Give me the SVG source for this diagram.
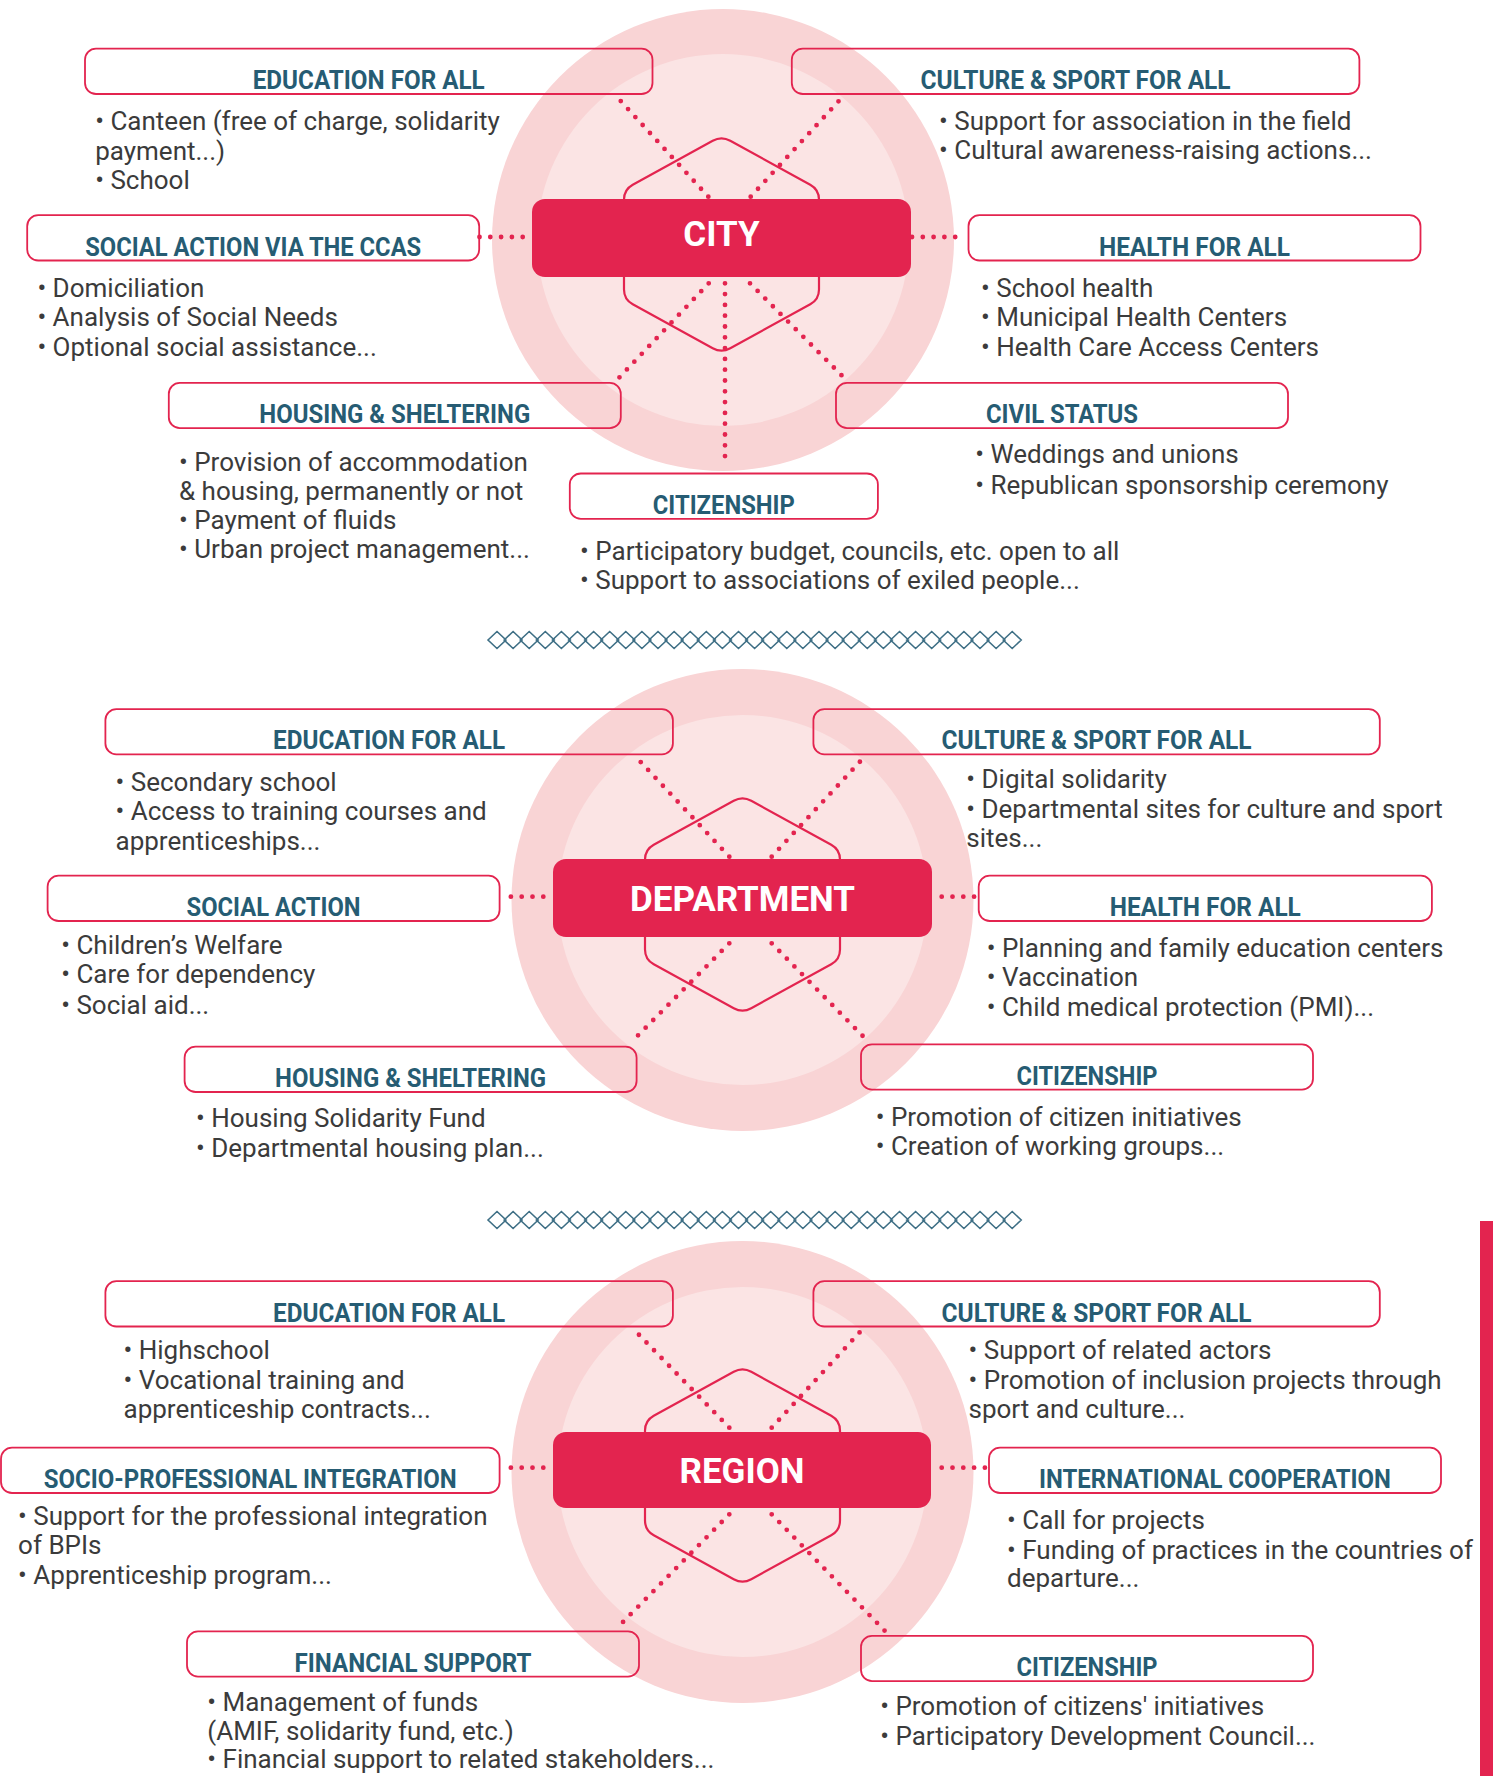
<svg xmlns="http://www.w3.org/2000/svg" xmlns:xlink="http://www.w3.org/1999/xlink" width="1493" height="1776" viewBox="0 0 1493 1776">
<style>
.outer{fill:#F9D4D5}
.inner{fill:#FBE4E4}
.hex{fill:none;stroke:#E3244F;stroke-width:2.2}
.hub{fill:#E3244F}
.hubt{font-family:Roboto,"Liberation Sans",sans-serif;font-weight:700;font-size:35px;fill:#FFFFFF;text-anchor:middle}
.box{fill:none;stroke:#E3244F;stroke-width:1.8}
.t{font-family:Roboto,"Liberation Sans",sans-serif;font-weight:700;font-size:25px;fill:#265C73;text-anchor:middle}
.b{font-family:Roboto,"Liberation Sans",sans-serif;font-size:26px;fill:#3B3B3B}
.dot{fill:none;stroke:#E3244F;stroke-width:4.8;stroke-linecap:round;stroke-dasharray:0 10.8}
.chain{fill:none;stroke:#3E6F85;stroke-width:1.6}
.bar{fill:#E3244F}
</style>
<defs>
<path id="hexp" d="M8.77,-103.69 L88.73,-59.81 Q97.5,-55 97.5,-45 L97.5,45 Q97.5,55 88.73,59.81 L8.77,103.69 Q0,108.5 -8.77,103.69 L-88.73,59.81 Q-97.5,55 -97.5,45 L-97.5,-45 Q-97.5,-55 -88.73,-59.81 L-8.77,-103.69 Q0,-108.5 8.77,-103.69 Z"/>
<path id="chainp" d="M0,0l9-8.5l9,8.5l-9,8.5z m16.1,0l9-8.5l9,8.5l-9,8.5z m16.1,0l9-8.5l9,8.5l-9,8.5z m16.1,0l9-8.5l9,8.5l-9,8.5z m16.1,0l9-8.5l9,8.5l-9,8.5z m16.1,0l9-8.5l9,8.5l-9,8.5z m16.1,0l9-8.5l9,8.5l-9,8.5z m16.1,0l9-8.5l9,8.5l-9,8.5z m16.1,0l9-8.5l9,8.5l-9,8.5z m16.1,0l9-8.5l9,8.5l-9,8.5z m16.1,0l9-8.5l9,8.5l-9,8.5z m16.1,0l9-8.5l9,8.5l-9,8.5z m16.1,0l9-8.5l9,8.5l-9,8.5z m16.1,0l9-8.5l9,8.5l-9,8.5z m16.1,0l9-8.5l9,8.5l-9,8.5z m16.1,0l9-8.5l9,8.5l-9,8.5z m16.1,0l9-8.5l9,8.5l-9,8.5z m16.1,0l9-8.5l9,8.5l-9,8.5z m16.1,0l9-8.5l9,8.5l-9,8.5z m16.1,0l9-8.5l9,8.5l-9,8.5z m16.1,0l9-8.5l9,8.5l-9,8.5z m16.1,0l9-8.5l9,8.5l-9,8.5z m16.1,0l9-8.5l9,8.5l-9,8.5z m16.1,0l9-8.5l9,8.5l-9,8.5z m16.1,0l9-8.5l9,8.5l-9,8.5z m16.1,0l9-8.5l9,8.5l-9,8.5z m16.1,0l9-8.5l9,8.5l-9,8.5z m16.1,0l9-8.5l9,8.5l-9,8.5z m16.1,0l9-8.5l9,8.5l-9,8.5z m16.1,0l9-8.5l9,8.5l-9,8.5z m16.1,0l9-8.5l9,8.5l-9,8.5z m16.1,0l9-8.5l9,8.5l-9,8.5z m16.1,0l9-8.5l9,8.5l-9,8.5z"/>
</defs>
<rect width="1493" height="1776" fill="#FFFFFF"/>

<g id="backdrop">
<circle class="outer" cx="723" cy="240" r="231"/>
<circle class="inner" cx="723" cy="240" r="186"/>
<use xlink:href="#hexp" href="#hexp" class="hex" transform="translate(721.5,244.5)"/>
<circle class="outer" cx="742.5" cy="900" r="231"/>
<circle class="inner" cx="742.5" cy="900" r="185"/>
<use xlink:href="#hexp" href="#hexp" class="hex" transform="translate(742.5,904.5)"/>
<circle class="outer" cx="742.5" cy="1472" r="231"/>
<circle class="inner" cx="742.5" cy="1472" r="185"/>
<use xlink:href="#hexp" href="#hexp" class="hex" transform="translate(742.5,1475.5)"/>
<use xlink:href="#chainp" href="#chainp" class="chain" transform="translate(488,640)"/>
<use xlink:href="#chainp" href="#chainp" class="chain" transform="translate(488,1220)"/>
<rect class="bar" x="1480" y="1221" width="13" height="555"/>
</g>

<g id="connectors">
<line class="dot" x1="708.3" y1="196.7" x2="617" y2="97"/>
<line class="dot" x1="750.7" y1="196.7" x2="842.5" y2="97"/>
<line class="dot" x1="708.7" y1="283.3" x2="615" y2="382"/>
<line class="dot" x1="750" y1="283.3" x2="843.3" y2="377"/>
<line class="dot" x1="725" y1="283.3" x2="725" y2="464"/>
<line class="dot" x1="522.7" y1="237" x2="479" y2="237"/>
<line class="dot" x1="912" y1="237" x2="962" y2="237"/>
<line class="dot" x1="729.3" y1="856.7" x2="636" y2="757"/>
<line class="dot" x1="771.7" y1="856.7" x2="864.3" y2="757"/>
<line class="dot" x1="729.3" y1="943.3" x2="636.7" y2="1036.7"/>
<line class="dot" x1="771.7" y1="943.3" x2="866.7" y2="1040"/>
<line class="dot" x1="543.3" y1="896.7" x2="501" y2="896.7"/>
<line class="dot" x1="941.7" y1="896.7" x2="977" y2="896.7"/>
<line class="dot" x1="729.3" y1="1427.7" x2="632" y2="1327.6"/>
<line class="dot" x1="771.7" y1="1427.7" x2="864" y2="1327.6"/>
<line class="dot" x1="729.3" y1="1514.3" x2="620.5" y2="1624.5"/>
<line class="dot" x1="771.7" y1="1514.3" x2="885" y2="1631"/>
<line class="dot" x1="543.3" y1="1467.7" x2="501" y2="1467.7"/>
<line class="dot" x1="941.7" y1="1467.7" x2="987" y2="1467.7"/>
</g>

<!-- CITY -->
<g id="city">
<rect class="hub" x="532" y="199" width="379" height="78" rx="13"/>
<text class="hubt" x="721.5" y="246">CITY</text>
</g>
<g id="city-education">
<rect class="box" x="85" y="48.7" width="567.5" height="45.3" rx="11"/>
<text class="t" x="368.7" y="89" textLength="232" lengthAdjust="spacingAndGlyphs">EDUCATION FOR ALL</text>
<text class="b" x="95.2" y="130.2">• Canteen (free of charge, solidarity</text>
<text class="b" x="95.2" y="159.7">payment...)</text>
<text class="b" x="95.2" y="189.1">• School</text>
</g>
<g id="city-culture">
<rect class="box" x="791.8" y="48.7" width="567.6" height="45.3" rx="11"/>
<text class="t" x="1075.6" y="89" textLength="310" lengthAdjust="spacingAndGlyphs">CULTURE &amp; SPORT FOR ALL</text>
<text class="b" x="939.1" y="130.2">• Support for association in the field</text>
<text class="b" x="939.1" y="159">• Cultural awareness-raising actions...</text>
</g>
<g id="city-social">
<rect class="box" x="27.2" y="215.2" width="452" height="45.3" rx="11"/>
<text class="t" x="253.2" y="255.5" textLength="336" lengthAdjust="spacingAndGlyphs">SOCIAL ACTION VIA THE CCAS</text>
<text class="b" x="37.4" y="296.7">• Domiciliation</text>
<text class="b" x="37.4" y="326.2">• Analysis of Social Needs</text>
<text class="b" x="37.4" y="355.6">• Optional social assistance...</text>
</g>
<g id="city-health">
<rect class="box" x="968.5" y="215.2" width="452" height="45.3" rx="11"/>
<text class="t" x="1194.5" y="255.5" textLength="191" lengthAdjust="spacingAndGlyphs">HEALTH FOR ALL</text>
<text class="b" x="981" y="296.7">• School health</text>
<text class="b" x="981" y="326.2">• Municipal Health Centers</text>
<text class="b" x="981" y="355.6">• Health Care Access Centers</text>
</g>
<g id="city-housing">
<rect class="box" x="168.8" y="382.9" width="452" height="45.3" rx="11"/>
<text class="t" x="394.8" y="423.2" textLength="271" lengthAdjust="spacingAndGlyphs">HOUSING &amp; SHELTERING</text>
<text class="b" x="179" y="471.2">• Provision of accommodation</text>
<text class="b" x="179" y="499.5">&amp; housing, permanently or not</text>
<text class="b" x="179" y="529">• Payment of fluids</text>
<text class="b" x="179" y="558.4">• Urban project management...</text>
</g>
<g id="city-civil">
<rect class="box" x="836" y="382.9" width="452" height="45.3" rx="11"/>
<text class="t" x="1062" y="423.2" textLength="152" lengthAdjust="spacingAndGlyphs">CIVIL STATUS</text>
<text class="b" x="975.3" y="463.3">• Weddings and unions</text>
<text class="b" x="975.3" y="493.8">• Republican sponsorship ceremony</text>
</g>
<g id="city-citizenship">
<rect class="box" x="569.8" y="473.5" width="308.1" height="45.3" rx="11"/>
<text class="t" x="723.8" y="513.8" textLength="142" lengthAdjust="spacingAndGlyphs">CITIZENSHIP</text>
<text class="b" x="580" y="559.5">• Participatory budget, councils, etc. open to all</text>
<text class="b" x="580" y="589">• Support to associations of exiled people...</text>
</g>

<!-- DEPARTMENT -->
<g id="department">
<rect class="hub" x="553" y="859" width="379" height="78" rx="13"/>
<text class="hubt" x="742.5" y="911">DEPARTMENT</text>
</g>
<g id="dept-education">
<rect class="box" x="105.4" y="709.1" width="567.5" height="45.3" rx="11"/>
<text class="t" x="389.1" y="749.4" textLength="232" lengthAdjust="spacingAndGlyphs">EDUCATION FOR ALL</text>
<text class="b" x="115.5" y="790.6">• Secondary school</text>
<text class="b" x="115.5" y="820.1">• Access to training courses and</text>
<text class="b" x="115.5" y="849.5">apprenticeships...</text>
</g>
<g id="dept-culture">
<rect class="box" x="813.4" y="709.1" width="566.4" height="45.3" rx="11"/>
<text class="t" x="1096.6" y="749.4" textLength="310" lengthAdjust="spacingAndGlyphs">CULTURE &amp; SPORT FOR ALL</text>
<text class="b" x="966.3" y="788.4">• Digital solidarity</text>
<text class="b" x="966.3" y="817.8">• Departmental sites for culture and sport</text>
<text class="b" x="966.3" y="847.3">sites...</text>
</g>
<g id="dept-social">
<rect class="box" x="47.6" y="875.7" width="452" height="45.3" rx="11"/>
<text class="t" x="273.6" y="916" textLength="174" lengthAdjust="spacingAndGlyphs">SOCIAL ACTION</text>
<text class="b" x="61.2" y="953.8">• Children’s Welfare</text>
<text class="b" x="61.2" y="983.2">• Care for dependency</text>
<text class="b" x="61.2" y="1013.8">• Social aid...</text>
</g>
<g id="dept-health">
<rect class="box" x="978.7" y="875.7" width="453.2" height="45.3" rx="11"/>
<text class="t" x="1205.3" y="916" textLength="191" lengthAdjust="spacingAndGlyphs">HEALTH FOR ALL</text>
<text class="b" x="986.7" y="957.2">• Planning and family education centers</text>
<text class="b" x="986.7" y="985.5">• Vaccination</text>
<text class="b" x="986.7" y="1016">• Child medical protection (PMI)...</text>
</g>
<g id="dept-housing">
<rect class="box" x="184.6" y="1046.7" width="452" height="45.3" rx="11"/>
<text class="t" x="410.6" y="1087" textLength="271" lengthAdjust="spacingAndGlyphs">HOUSING &amp; SHELTERING</text>
<text class="b" x="196" y="1127.1">• Housing Solidarity Fund</text>
<text class="b" x="196" y="1156.5">• Departmental housing plan...</text>
</g>
<g id="dept-citizenship">
<rect class="box" x="861" y="1044.4" width="452" height="45.3" rx="11"/>
<text class="t" x="1087" y="1084.8" textLength="141" lengthAdjust="spacingAndGlyphs">CITIZENSHIP</text>
<text class="b" x="875.7" y="1126">• Promotion of citizen initiatives</text>
<text class="b" x="875.7" y="1155.4">• Creation of working groups...</text>
</g>

<!-- REGION -->
<g id="region">
<rect class="hub" x="553" y="1432" width="378" height="76" rx="13"/>
<text class="hubt" x="742" y="1483">REGION</text>
</g>
<g id="region-education">
<rect class="box" x="105.4" y="1281.2" width="567.5" height="45.3" rx="11"/>
<text class="t" x="389.1" y="1321.5" textLength="232" lengthAdjust="spacingAndGlyphs">EDUCATION FOR ALL</text>
<text class="b" x="123.5" y="1359.3">• Highschool</text>
<text class="b" x="123.5" y="1388.7">• Vocational training and</text>
<text class="b" x="123.5" y="1418.2">apprenticeship contracts...</text>
</g>
<g id="region-culture">
<rect class="box" x="813.4" y="1281.2" width="566.4" height="45.3" rx="11"/>
<text class="t" x="1096.6" y="1321.5" textLength="310" lengthAdjust="spacingAndGlyphs">CULTURE &amp; SPORT FOR ALL</text>
<text class="b" x="968.5" y="1359.3">• Support of related actors</text>
<text class="b" x="968.5" y="1388.7">• Promotion of inclusion projects through</text>
<text class="b" x="968.5" y="1418.2">sport and culture...</text>
</g>
<g id="region-socio">
<rect class="box" x="1" y="1447.7" width="498.6" height="45.3" rx="11"/>
<text class="t" x="250.3" y="1488" textLength="413" lengthAdjust="spacingAndGlyphs">SOCIO-PROFESSIONAL INTEGRATION</text>
<text class="b" x="18.1" y="1524.7">• Support for the professional integration</text>
<text class="b" x="18.1" y="1554.1">of BPIs</text>
<text class="b" x="18.1" y="1583.6">• Apprenticeship program...</text>
</g>
<g id="region-international">
<rect class="box" x="989" y="1447.7" width="452" height="45.3" rx="11"/>
<text class="t" x="1215" y="1488" textLength="352" lengthAdjust="spacingAndGlyphs">INTERNATIONAL COOPERATION</text>
<text class="b" x="1007" y="1529.2">• Call for projects</text>
<text class="b" x="1007" y="1558.7">• Funding of practices in the countries of</text>
<text class="b" x="1007" y="1587">departure...</text>
</g>
<g id="region-financial">
<rect class="box" x="187" y="1631.3" width="452" height="45.3" rx="11"/>
<text class="t" x="413" y="1671.6" textLength="237" lengthAdjust="spacingAndGlyphs">FINANCIAL SUPPORT</text>
<text class="b" x="207.3" y="1710.5">• Management of funds</text>
<text class="b" x="207.3" y="1740">(AMIF, solidarity fund, etc.)</text>
<text class="b" x="207.3" y="1768.2">• Financial support to related stakeholders...</text>
</g>
<g id="region-citizenship">
<rect class="box" x="861" y="1635.8" width="452" height="45.3" rx="11"/>
<text class="t" x="1087" y="1676" textLength="141" lengthAdjust="spacingAndGlyphs">CITIZENSHIP</text>
<text class="b" x="880.2" y="1715">• Promotion of citizens' initiatives</text>
<text class="b" x="880.2" y="1744.5">• Participatory Development Council...</text>
</g>
</svg>
